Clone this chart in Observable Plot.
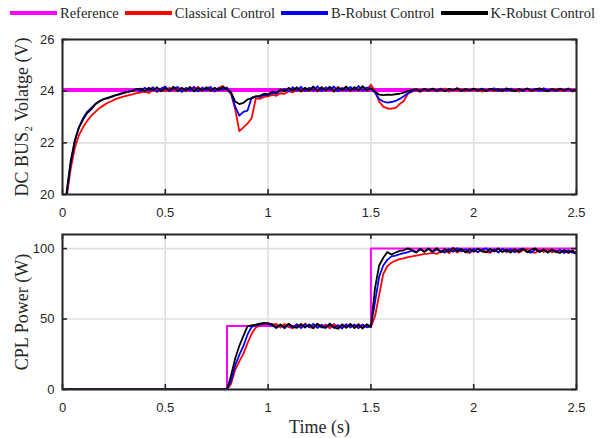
<!DOCTYPE html>
<html><head><meta charset="utf-8">
<script src="https://cdn.jsdelivr.net/npm/d3@7"></script>
<script src="https://cdn.jsdelivr.net/npm/@observablehq/plot@0.6"></script>
<style>
body{margin:0;background:#fff;}
#wrap{width:602px;height:438px;position:relative;overflow:hidden;background:#fff}
#legend{height:26px;display:flex;align-items:center;padding-left:10px;font-family:"Liberation Serif",serif;font-size:14.5px;color:#262626;white-space:nowrap}
.sw{width:47px;height:3.5px;margin-right:3px}
.it{display:flex;align-items:center;margin-right:6px}
svg{display:block}
</style></head><body>
<div id="wrap"><div id="legend"></div><div id="top"></div><div id="bot"></div></div>
<script>
// sample grid (s)
const time = d3.range(126).map(i => Math.round(i * 2) / 100);
const xTicks = [0, 0.5, 1, 1.5, 2, 2.5];
const vTicks = [20, 22, 24, 26];
const pTicks = [0, 50, 100];
const seriesNames = ["Reference", "Classical Control", "B-Robust Control", "K-Robust Control"];
const seriesColors = ["#ff00ff", "#ff0000", "#0000ff", "#000000"];

// Reference signals
const refVTime = [0, 2.5];
const refV = [24.05, 24.05];
const refPTime = [0, 0.8, 0.8, 1.5, 1.5, 2.5];
const refP = [0, 0, 45, 45, 100, 100];

// DC bus voltage (V)
const vClassical = [
 18.0, 19.9, 21.0, 21.8, 22.3, 22.6, 22.85, 23.05, 23.2, 23.35,
 23.45, 23.55, 23.62, 23.7, 23.75, 23.8, 23.84, 23.88, 23.92, 23.95,
 23.98, 23.93, 24.05, 23.97, 24.1, 24.0, 24.13, 24.02, 24.15, 24.04,
 23.99, 24.14, 24.03, 24.17, 24.0, 24.12, 24.16, 23.98, 24.13, 24.2,
 24.05, 23.9, 23.3, 22.45, 22.6, 22.75, 22.95, 23.72, 23.7, 23.78,
 23.8, 23.86, 23.82, 23.92, 23.9, 24.0, 23.95, 24.06, 23.98, 24.1,
 24.0, 24.14, 23.99, 24.16, 24.02, 24.12, 23.98, 24.17, 24.03, 24.13,
 24.0, 24.15, 24.02, 24.18, 24.05, 24.25, 24.0, 23.6, 23.4, 23.33,
 23.32, 23.35, 23.5, 23.62, 23.9, 23.98, 24.04, 23.97, 24.06, 24.0,
 24.07, 23.99, 24.05, 24.1, 23.98, 24.06, 24.01, 24.08, 23.99, 24.06,
 24.02, 24.09, 23.98, 24.05, 24.08, 24.0, 24.06, 23.99, 24.07, 24.02,
 24.08, 23.98, 24.05, 24.09, 24.0, 24.06, 24.03, 24.1, 23.99, 24.05,
 24.08, 24.0, 24.06, 24.1, 23.98, 24.05
];
const vBRobust = [
 18.3, 20.0, 21.2, 22.05, 22.6, 22.95, 23.2, 23.35, 23.5, 23.62,
 23.68, 23.75, 23.78, 23.85, 23.88, 23.95, 23.97, 24.02, 24.09, 24.0,
 24.13, 24.02, 24.15, 23.99, 24.1, 24.18, 24.0, 24.11, 24.16, 23.97,
 24.13, 24.02, 24.17, 23.99, 24.14, 24.03, 24.16, 24.0, 24.12, 24.05,
 24.14, 23.9, 23.4, 23.05, 23.2, 23.25, 23.75, 23.8, 23.78, 23.85,
 23.85, 23.93, 23.9, 24.02, 24.08, 23.99, 24.15, 24.02, 24.17, 24.0,
 24.13, 24.02, 24.19, 24.0, 24.15, 24.04, 24.18, 23.99, 24.13, 24.02,
 24.16, 24.03, 24.2, 24.01, 24.14, 24.08, 23.95, 23.7, 23.6, 23.56,
 23.58, 23.62, 23.7, 23.8, 23.92, 24.0, 24.06, 24.0, 24.09, 24.02,
 24.08, 24.01, 24.1, 24.0, 24.07, 24.03, 24.11, 24.0, 24.08, 24.02,
 24.09, 24.01, 24.1, 24.03, 24.07, 24.11, 24.0, 24.08, 24.02, 24.1,
 24.01, 24.07, 24.0, 24.1, 24.03, 24.08, 24.01, 24.11, 24.03, 24.07,
 24.0, 24.09, 24.03, 24.1, 24.01, 24.06
];
const vKRobust = [
 18.4, 20.1, 21.3, 22.1, 22.6, 22.9, 23.15, 23.3, 23.5, 23.6,
 23.7, 23.72, 23.8, 23.85, 23.9, 23.93, 23.98, 24.0, 24.07, 24.1,
 24.0, 24.13, 24.03, 24.15, 23.99, 24.12, 24.02, 24.17, 24.0, 24.13,
 24.03, 24.16, 23.99, 24.12, 24.02, 24.15, 24.01, 24.13, 24.04, 24.16,
 24.06, 23.95, 23.6, 23.5, 23.55, 23.68, 23.72, 23.8, 23.82, 23.9,
 23.88, 23.98, 23.94, 24.07, 23.99, 24.13, 24.02, 24.15, 24.0, 24.13,
 24.03, 24.18, 24.0, 24.14, 24.02, 24.17, 23.99, 24.14, 24.04, 24.18,
 24.01, 24.15, 24.03, 24.19, 24.02, 24.12, 23.98, 23.87, 23.85, 23.87,
 23.86, 23.88, 23.9, 23.94, 24.0, 24.04, 24.08, 24.01, 24.09, 24.03,
 24.1, 24.02, 24.07, 24.0, 24.09, 24.04, 24.11, 24.01, 24.08, 24.03,
 24.1, 24.02, 24.07, 24.0, 24.09, 24.04, 24.08, 24.01, 24.11, 24.03,
 24.0, 24.08, 24.03, 24.1, 24.01, 24.07, 24.11, 24.02, 24.0, 24.08,
 24.03, 24.1, 24.01, 24.08, 24.02, 24.06
];

// CPL power (W)
const pClassical = [
 0, 0, 0, 0, 0, 0, 0, 0, 0, 0,
 0, 0, 0, 0, 0, 0, 0, 0, 0, 0,
 0, 0, 0, 0, 0, 0, 0, 0, 0, 0,
 0, 0, 0, 0, 0, 0, 0, 0, 0, 0,
 0, 4, 14, 20, 25.5, 33, 39.5, 44, 45.5, 46.5,
 47.3, 45.8, 46.6, 43.9, 46.5, 44.2, 43.5, 46.4, 44.1, 46.8,
 44.3, 43.6, 46.5, 43.9, 46.2, 43.4, 46.6, 44.0, 46.1, 43.7,
 46.3, 44.2, 46.5, 43.6, 45.9, 44.3, 52, 67, 82, 87.5,
 90, 91.5, 92.5, 93, 94, 94.5, 95, 95.5, 96.3, 96.5,
 97, 96.2, 97.9, 98.6, 96.8, 99.1, 97.2, 99.4, 97.5, 96.9,
 99.2, 97.3, 99.5, 97.8, 97.0, 99.3, 97.6, 99.8, 97.4, 98.9,
 99.4, 97.1, 98.9, 99.6, 97.5, 97.0, 99.1, 97.6, 99.5, 97.3,
 98.9, 97.0, 98.7, 96.8, 98.4, 96.5
];
const pBRobust = [
 0, 0, 0, 0, 0, 0, 0, 0, 0, 0,
 0, 0, 0, 0, 0, 0, 0, 0, 0, 0,
 0, 0, 0, 0, 0, 0, 0, 0, 0, 0,
 0, 0, 0, 0, 0, 0, 0, 0, 0, 0,
 0, 6, 17, 24.5, 31, 39, 44.5, 45.5, 46.2, 46.8,
 47, 45.3, 44.1, 46.0, 43.4, 46.5, 43.9, 46.1, 43.6, 46.3,
 44.1, 46.6, 43.7, 46.0, 44.0, 46.8, 43.8, 45.7, 43.3, 46.4,
 43.9, 46.1, 43.5, 46.2, 44.1, 44.8, 62, 80, 88, 92,
 94.5, 95, 96, 96.7, 97.5, 98.5, 97.2, 99.5, 97.8, 99.9,
 97.5, 99.6, 98.1, 97.1, 99.8, 97.7, 100.3, 97.9, 99.5, 97.3,
 99.7, 97.6, 99.3, 100.1, 97.5, 99.4, 97.2, 99.8, 98.0, 99.6,
 97.4, 99.2, 99.9, 97.7, 97.1, 99.5, 97.8, 99.4, 97.3, 99.1,
 97.4, 99.3, 96.9, 98.8, 97.1, 96.8
];
const pKRobust = [
 0, 0, 0, 0, 0, 0, 0, 0, 0, 0,
 0, 0, 0, 0, 0, 0, 0, 0, 0, 0,
 0, 0, 0, 0, 0, 0, 0, 0, 0, 0,
 0, 0, 0, 0, 0, 0, 0, 0, 0, 0,
 0, 10, 22, 31, 38, 45, 45.5, 46, 46.8, 47.2,
 46.5, 46.4, 43.6, 46.2, 44.1, 46.7, 44.5, 43.8, 46.5, 43.9,
 46.2, 43.5, 46.7, 44.3, 43.7, 46.4, 44.1, 43.1, 46.1, 43.9,
 46.5, 43.6, 45.9, 43.3, 46.3, 44.5, 72, 88, 93.5, 97.5,
 95.8, 97.2, 98.4, 98.8, 100.2, 99, 97.5, 99.9, 97.7, 100.1,
 98, 100.3, 97.3, 99.7, 97.9, 100.5, 98.1, 99.8, 97.4, 99.5,
 97.7, 100, 98.1, 97.3, 99.7, 97.9, 100.2, 97.6, 99.4, 97.1,
 99.6, 97.8, 99.9, 97.4, 99.2, 100.1, 97.6, 99.3, 97.2, 99.5,
 97.7, 97.0, 99.1, 97.3, 98.6, 96.2
];

const check = {vClassical, vBRobust, vKRobust, pClassical, pBRobust, pKRobust};
for (const [k, a] of Object.entries(check)) if (a.length !== time.length) throw new Error(k + " length " + a.length);

// legend
const legend = document.getElementById("legend");
seriesNames.forEach((n, i) => {
  const it = document.createElement("div"); it.className = "it";
  const sw = document.createElement("div"); sw.className = "sw"; sw.style.background = seriesColors[i];
  const tx = document.createElement("span"); tx.textContent = n;
  it.appendChild(sw); it.appendChild(tx); legend.appendChild(it);
});

const ML = 62, MR = 26, W = 602;
const ink = "#262626";
function panel({series, refT, ref, refWidth, yDomain, yTicks, ylabel, xlabel, height, marginTop, marginBottom}) {
  const innerH = height - marginTop - marginBottom;
  const innerW = W - ML - MR;
  const marks = [
    Plot.gridX(xTicks, {stroke: "#dfdfdf", strokeOpacity: 1, strokeWidth: 1.6}),
    Plot.gridY(yTicks, {stroke: "#dfdfdf", strokeOpacity: 1, strokeWidth: 1.6}),
    Plot.line(ref, {x: (d, i) => refT[i], y: d => d, stroke: seriesColors[0], strokeWidth: refWidth, clip: true})
  ];
  series.forEach((s, j) => {
    marks.push(Plot.line(s, {x: (d, i) => time[i], y: d => d, stroke: seriesColors[j + 1], strokeWidth: 1.8, clip: true}));
  });
  marks.push(
    Plot.frame({stroke: ink, strokeWidth: 2}),
    Plot.ruleX(xTicks, {insetTop: innerH - 5, stroke: ink, strokeWidth: 1.6}),
    Plot.ruleX(xTicks, {insetBottom: innerH - 5, stroke: ink, strokeWidth: 1.6}),
    Plot.ruleY(yTicks, {insetRight: innerW - 5, stroke: ink, strokeWidth: 1.6}),
    Plot.ruleY(yTicks, {insetLeft: innerW - 5, stroke: ink, strokeWidth: 1.6}),
    Plot.axisX(xTicks, {tickSize: 0, tickPadding: 13, label: null, tickFormat: d => String(d)}),
    Plot.axisY(yTicks, {tickSize: 0, tickPadding: 8, label: null, tickFormat: d => String(d)}),
    Plot.axisY({ticks: [], tickSize: 0, label: ylabel, labelAnchor: "center", labelArrow: "none", labelOffset: 47, fontFamily: "'Liberation Serif', serif", fontSize: 18})
  );
  if (xlabel) marks.push(Plot.axisX({ticks: [], tickSize: 0, label: xlabel, labelAnchor: "center", labelArrow: "none", labelOffset: 43, fontFamily: "'Liberation Serif', serif", fontSize: 18}));
  return Plot.plot({
    width: W, height, marginTop, marginBottom, marginLeft: ML, marginRight: MR,
    x: {domain: [0, 2.5]}, y: {domain: yDomain},
    style: {background: "#fff", color: ink, fontFamily: "'Liberation Sans', Arial, sans-serif", fontSize: "13px", overflow: "visible"},
    marks
  });
}

document.getElementById("top").appendChild(panel({
  series: [vClassical, vBRobust, vKRobust], refT: refVTime, ref: refV, refWidth: 4,
  yDomain: [20, 26], yTicks: vTicks, ylabel: "DC BUS\u2082 Volatge (V)",
  height: 194, marginTop: 13, marginBottom: 26
}));
document.getElementById("bot").appendChild(panel({
  series: [pClassical, pBRobust, pKRobust], refT: refPTime, ref: refP, refWidth: 2,
  yDomain: [0, 110], yTicks: pTicks, ylabel: "CPL Power (W)", xlabel: "Time (s)",
  height: 218, marginTop: 14, marginBottom: 49
}));
</script></body></html>
